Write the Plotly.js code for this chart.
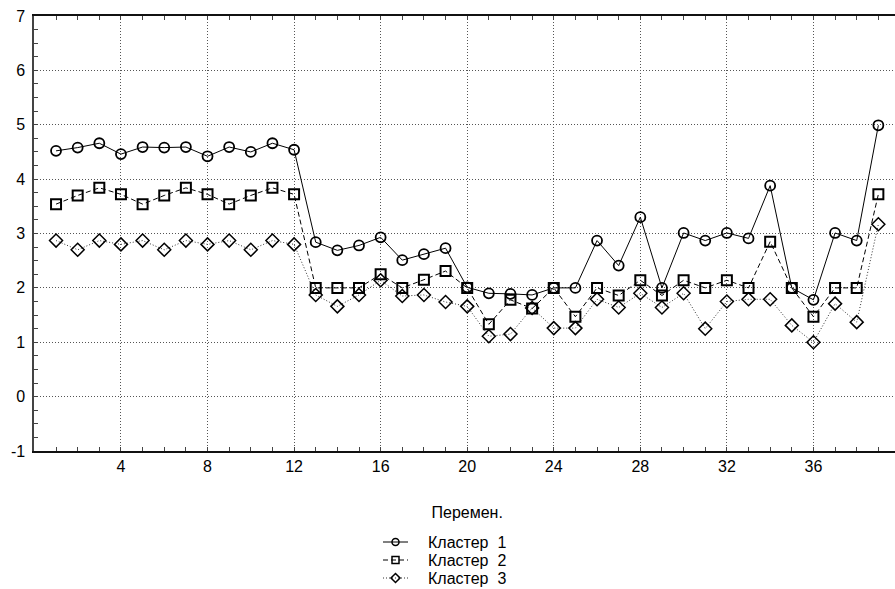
<!DOCTYPE html>
<html>
<head>
<meta charset="utf-8">
<script src="https://cdn.plot.ly/plotly-3.0.1.min.js"></script>
<style>
html,body{margin:0;padding:0;overflow:hidden;background:#fff;}
#chart{width:900px;height:589px;}
</style>
</head>
<body>
<div id="chart"></div>
<script>
// ---- data ----
const xValues = [1,2,3,4,5,6,7,8,9,10,11,12,13,14,15,16,17,18,19,20,21,22,23,24,25,26,27,28,29,30,31,32,33,34,35,36,37,38,39];
const cluster1 = [4.52,4.58,4.66,4.46,4.59,4.58,4.59,4.42,4.59,4.50,4.66,4.54,
  2.84,2.69,2.78,2.93,2.51,2.62,2.73,2.01,1.90,1.89,1.87,2.00,2.00,
  2.87,2.41,3.30,2.00,3.01,2.87,3.01,2.91,3.88,2.00,1.78,3.01,2.87,4.99];
const cluster2 = [3.54,3.70,3.84,3.72,3.54,3.70,3.84,3.72,3.54,3.70,3.84,3.72,
  2.00,2.00,2.00,2.25,2.00,2.15,2.31,2.00,1.33,1.78,1.62,2.00,1.47,
  2.00,1.86,2.14,1.86,2.14,2.00,2.14,2.00,2.85,2.00,1.47,2.00,2.00,3.72];
const cluster3 = [2.87,2.70,2.87,2.80,2.87,2.70,2.87,2.80,2.87,2.70,2.87,2.80,
  1.87,1.66,1.87,2.14,1.85,1.87,1.74,1.66,1.11,1.15,1.63,1.26,1.26,
  1.79,1.64,1.90,1.64,1.90,1.25,1.75,1.79,1.79,1.31,1.00,1.71,1.37,3.17];
const seriesNames = ['Кластер  1','Кластер  2','Кластер  3'];
const xTicks = [4,8,12,16,20,24,28,32,36];
const yTicks = [-1,0,1,2,3,4,5,6,7];
const xTitle = 'Перемен.';

// ---- styles / layout geometry (pixels) ----
const W = 900, H = 589;
const plotLeft = 34.4, plotRight = 900, plotTop = 16, plotBottom = 451;
const legendLineX = [383, 408];
const legendTextX = 426;
const legendRowY = [542, 560, 578];
const font = 'Liberation Sans, Arial, sans-serif';

const styles = [
  {line:{color:'#000', width:1, dash:'solid'}, sym:'circle-open', size:10, lw:1.8},
  {line:{color:'#000', width:1, dash:'5px,3px'}, sym:'square-open', size:10, lw:2},
  {line:{color:'#333', width:1, dash:'1px,2px'}, sym:'diamond-open', size:10, lw:1.5}
];
const series = [cluster1, cluster2, cluster3];

const traces = [];
series.forEach((ys, i) => {
  traces.push({x:xValues, y:ys, name:seriesNames[i], mode:'lines+markers', type:'scatter',
    xaxis:'x', yaxis:'y', showlegend:false,
    line:Object.assign({}, styles[i].line),
    marker:{symbol:styles[i].sym, size:styles[i].size, color:'#000', line:{width:styles[i].lw, color:'#000'}}});
});
// legend samples (on a pixel overlay axis)
series.forEach((ys, i) => {
  const yy = legendRowY[i];
  traces.push({x:legendLineX, y:[yy, yy], mode:'lines', type:'scatter', xaxis:'x2', yaxis:'y2',
    showlegend:false, hoverinfo:'skip', line:Object.assign({}, styles[i].line)});
  traces.push({x:[(legendLineX[0]+legendLineX[1])/2], y:[yy], mode:'markers', type:'scatter', xaxis:'x2', yaxis:'y2',
    showlegend:false, hoverinfo:'skip',
    marker:{symbol:styles[i].sym, size:7, color:'#000', line:{width:1.5, color:'#000'}}});
});

const annotations = seriesNames.map((n, i) => ({
  text:n, xref:'paper', yref:'paper', x:legendTextX/W, y:1 - legendRowY[i]/H,
  xanchor:'left', yanchor:'middle', showarrow:false, font:{family:font, size:16, color:'#000'}
}));

const layout = {
  width:W, height:H,
  margin:{l:0, r:0, t:0, b:0, autoexpand:false},
  paper_bgcolor:'#fff', plot_bgcolor:'rgba(0,0,0,0)',
  font:{family:font, size:16, color:'#000'},
  showlegend:false,
  annotations:annotations,
  xaxis:{domain:[plotLeft/W, plotRight/W], anchor:'y',
         range:[0,40], tickmode:'array', tickvals:xTicks, ticktext:xTicks.map(String),
         showgrid:true, gridcolor:'#555', griddash:'1px,2px', gridwidth:1,
         zeroline:false, showline:true, linecolor:'#111', linewidth:2, mirror:'ticks',
         ticks:'inside', ticklen:4, tickcolor:'#444',
         minor:{dtick:1, ticks:'inside', ticklen:4, tickcolor:'#444', showgrid:false},
         tickfont:{family:font, size:16},
         title:{text:xTitle, font:{family:font, size:16}, standoff:33}},
  yaxis:{domain:[1 - plotBottom/H, 1 - plotTop/H], anchor:'x',
         range:[-1,7], tickmode:'array', tickvals:yTicks, ticktext:yTicks.map(String),
         showgrid:true, gridcolor:'#555', griddash:'1px,2px', gridwidth:1,
         zeroline:false, showline:true, linecolor:'#444', linewidth:2, mirror:'ticks',
         ticks:'inside', ticklen:4, tickcolor:'#444',
         minor:{dtick:0.25, ticks:'inside', ticklen:4, tickcolor:'#444', showgrid:false},
         tickfont:{family:font, size:16}, ticklabelstandoff:4},
  xaxis2:{domain:[0,1], anchor:'y2', range:[0,W], visible:false, fixedrange:true},
  yaxis2:{domain:[0,1], anchor:'x2', range:[H,0], visible:false, fixedrange:true}
};
Plotly.newPlot('chart', traces, layout, {staticPlot:true, displayModeBar:false});
</script>
</body>
</html>
